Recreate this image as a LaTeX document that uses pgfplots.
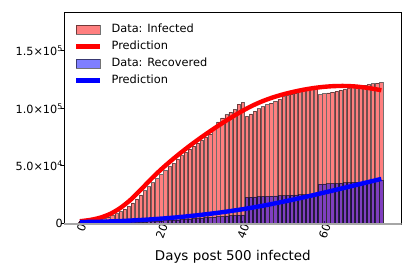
\documentclass[border=0pt]{standalone}
\usepackage{fontspec}
\setmainfont{DejaVu Sans}
\usepackage{pgfplots}
\pgfplotsset{compat=1.18}
\usepackage{pgfplotstable}

\pgfplotstableread{
day inf rec
0 700 0
1 1000 0
2 1400 10
3 1900 20
4 2500 30
5 3200 50
6 4100 80
7 5200 120
8 6500 170
9 8000 230
10 9800 300
11 12000 380
12 14500 470
13 17500 570
14 21000 680
15 24500 800
16 28000 950
17 31500 1100
18 35000 1280
19 38500 1470
20 42000 1680
21 45500 1900
22 49000 2130
23 52000 2380
24 55500 2640
25 58500 2900
26 61500 3180
27 64500 3460
28 67000 3750
29 69500 4050
30 72000 4350
31 74500 4650
32 77500 4950
33 82000 5250
34 88000 5550
35 91500 5850
36 94500 6100
37 96500 6350
38 99000 6600
39 103500 6800
40 105000 7000
41 92800 22400
42 95000 22570
43 97500 22740
44 99500 22910
45 101500 23080
46 103000 23250
47 104500 23420
48 106000 23590
49 107800 23760
50 110000 23930
51 111000 24100
52 112200 24270
53 113300 24440
54 114400 24610
55 115300 24780
56 116200 24950
57 117100 25120
58 118000 25300
59 111700 33800
60 112600 34000
61 113400 34200
62 114100 34400
63 114900 34600
64 115700 34800
65 116400 35000
66 117100 35200
67 117800 35400
68 118600 35600
69 119400 35800
70 120100 36050
71 120700 36250
72 121300 36450
73 121900 36700
74 122400 36900
}\datatable

\pgfplotstableread{
day pred
0 1500
2.5 2625
5 4625
7.5 8000
10 13250
12.5 20375
15 29125
17.5 38375
20 46875
22.5 54625
25 61875
27.5 68688
30 75125
32.5 81250
35 87125
37.5 92688
40 97875
42.5 102500
45 106375
47.5 109563
50 112188
52.5 114375
55 116200
57.5 117650
60 118688
62.5 119288
65 119413
67.5 119000
70 118025
72.5 116650
74 115675
}\infpred

\pgfplotstableread{
day pred
0 800
5 1100
10 1700
15 2600
20 3800
25 5300
30 7200
35 9400
40 12000
45 15100
50 18600
55 22400
60 26500
65 30700
70 35000
74 38400
}\recpred

\begin{document}
\begin{tikzpicture}
\begin{axis}[
  scale only axis,
  width=337.7bp, height=211bp,
  xmin=-3.9, xmax=79,
  ymin=-900, ymax=183000,
  xtick={0,20,40,60},
  xticklabels={0,20,40,60},
  ytick={0,50000,100000,150000},
  yticklabels={0,5.0×10\textsuperscript{4},1.0×10\textsuperscript{5},1.5×10\textsuperscript{5}},
  scaled y ticks=false,
  xtick pos=bottom, ytick pos=left,
  tick align=inside,
  major tick length=3bp,
  ytick style={xshift=-3bp, black, line width=0.8bp},
  xtick style={black, line width=0.8bp},
  ticklabel style={font=\fontsize{11.3}{13}\selectfont},
  xticklabel style={rotate=70, anchor=east, inner sep=1bp, yshift=-3bp, xshift=1.5bp},
  yticklabel style={inner sep=1bp},
  axis line style={black, line width=1bp},
  xlabel={Days post 500 infected},
  xlabel style={font=\fontsize{13.5}{15}\selectfont, at={(axis description cs:0.5,0)}, anchor=base, yshift=-36bp},
  legend cell align=left,
  legend style={draw=none, fill=none, at={(axis description cs:0,1)}, anchor=north west,
    xshift=10bp, yshift=-11bp, inner sep=0pt, row sep=6bp, column sep=9bp,
    font=\fontsize{11.4}{13}\selectfont,
    nodes={inner sep=0pt, text height=8.5bp, text depth=2.5bp}},
]
\addplot[ybar, bar width=0.8, bar shift=0pt, fill=red, fill opacity=0.5, draw=black, draw opacity=0.55, line width=0.7bp,
  legend image code/.code={\draw[fill=red, fill opacity=0.5, draw=black, draw opacity=0.55, line width=0.8bp] (0bp,-4.5bp) rectangle (24bp,4.5bp);}]
  table[x=day, y=inf] {\datatable};
\addlegendentry{Data: Infected}
\addplot[red, line width=4.4bp, smooth, no marks,
  legend image code/.code={\draw[red, line width=4.4bp] (0bp,0bp) -- (24bp,0bp);}]
  table[x=day, y=pred] {\infpred};
\addlegendentry{Prediction}
\addplot[ybar, bar width=0.8, bar shift=0pt, fill=blue, fill opacity=0.5, draw=black, draw opacity=0.55, line width=0.7bp,
  legend image code/.code={\draw[fill=blue, fill opacity=0.5, draw=black, draw opacity=0.55, line width=0.8bp] (0bp,-4.5bp) rectangle (24bp,4.5bp);}]
  table[x=day, y=rec] {\datatable};
\addlegendentry{Data: Recovered}
\addplot[blue, line width=4.4bp, smooth, no marks,
  legend image code/.code={\draw[blue, line width=4.4bp] (0bp,0bp) -- (24bp,0bp);}]
  table[x=day, y=pred] {\recpred};
\addlegendentry{Prediction}
\draw[black!35, line width=1.8bp] (rel axis cs:0,0) -- ([xshift=8bp]rel axis cs:1,0);
\end{axis}
\pgfresetboundingbox
\path (current axis.south west) +(-64bp,-53bp) (current axis.north east) +(13.3bp,13bp);
\end{tikzpicture}
\end{document}
